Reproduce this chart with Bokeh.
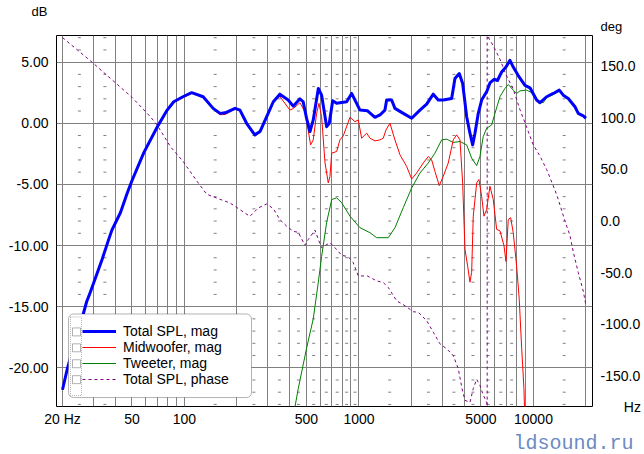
import numpy as np
from bokeh.plotting import figure
from bokeh.models import (Range1d, LinearAxis, FixedTicker, PrintfTickFormatter, CustomJSTickFormatter,
                          Legend, LegendItem, BoxAnnotation, Title)
from bokeh.embed import file_html
from bokeh.resources import INLINE

# ---------------- data ----------------
total_f = [20, 20.6, 21.3, 22.7, 25.4, 27.5, 28.9, 33.8, 36.8, 38.5,
           43, 47, 50, 58.5, 69.8, 79.6, 86.8, 98, 110, 128,
           146, 160, 171, 195, 208, 227, 253, 271, 296, 323,
           352, 393, 420, 459, 479, 501, 524, 547, 585, 611,
           653, 676, 707, 745, 850, 908, 1013, 1116, 1235, 1319,
           1409, 1441, 1539, 1608, 1795, 2005, 2236, 2443, 2666, 2847,
           3042, 3398, 3549, 3757, 3929, 4143, 4326, 4483, 4622, 4828,
           5048, 5400, 5632, 5950, 6220, 6573, 6957, 7334, 7660, 8180,
           8940, 9550, 10430, 10900, 11900, 12990, 14060, 14820, 15830, 17290,
           18060, 19290, 20000]
total_db = [-21.8, -21.0, -20.1, -18.7, -16.4, -14.6, -13.8, -11.1, -9.5, -8.7,
            -7.3, -5.7, -4.7, -2.4, -0.3, 1.08, 1.76, 2.17, 2.5, 2.17,
            1.22, 0.81, 0.86, 1.22, 1.08, 0.0, -0.95, -0.68, 0.54, 1.76,
            2.38, 1.9, 1.4, 2.0, 1.76, 0.4, -0.68, 0.27, 2.85, 2.3,
            -0.28, 0.0, 1.84, 1.63, 1.76, 2.44, 1.08, 1.03, 0.49, 0.68,
            1.08, 1.9, 1.9, 1.22, 0.81, 0.41, 1.08, 1.57, 2.38, 1.9,
            1.9, 2.03, 3.66, 4.07, 3.25, 0.54, -0.81, -1.77, -0.81, 0.81,
            1.9, 2.6, 3.3, 3.6, 3.5, 4.2, 4.6, 5.15, 4.6, 3.9,
            3.1, 2.9, 1.9, 1.68, 2.17, 2.44, 2.71, 2.3, 2.03, 1.35,
            0.81, 0.6, 0.41]

mid_f = [20, 20.6, 21.3, 22.7, 25.4, 27.5, 28.9, 33.8, 36.8, 38.5,
         43, 47, 50, 58.5, 69.8, 79.6, 86.8, 98, 110, 128,
         146, 160, 171, 195, 208, 227, 253, 271, 296, 323,
         352, 402, 420, 459, 490, 501, 528, 547, 572, 590,
         611, 639, 667, 682, 698, 745, 778, 813, 888, 948,
         991, 1036, 1107, 1156, 1235, 1319, 1378, 1428, 1505, 1608,
         1718, 1876, 2005, 2141, 2336, 2495, 2609, 2726, 2885, 3042,
         3249, 3470, 3630, 3792, 3929, 4050, 4198, 4326, 4424, 4519,
         4727, 4872, 5048, 5203, 5392, 5632, 5884, 6153, 6427, 6776,
         6957, 7171, 7402, 7660, 8010, 8290, 8560, 8820, 8940]
mid_db = [-21.8, -21.0, -20.1, -18.7, -16.4, -14.6, -13.8, -11.1, -9.5, -8.7,
          -7.3, -5.7, -4.7, -2.4, -0.3, 1.05, 1.7, 2.1, 2.45, 2.1,
          1.15, 0.7, 0.72, 1.15, 1.0, -0.1, -1.05, -0.75, 0.45, 1.7,
          2.2, 1.08, 1.2, 1.68, 0.95, 0.27, -1.77, -1.36, 0.81, 1.63,
          0.54, -3.25, -4.88, -4.34, -2.44, -2.31, -1.36, -1.03, 0.49, 0.13,
          0.27, -1.22, -0.81, -1.22, -1.44, -1.36, -1.22, -0.55, 0.0, -1.36,
          -2.58, -3.53, -4.56, -4.07, -3.25, -2.72, -2.99, -3.94, -5.1, -4.34,
          -3.25, -1.36, -0.95, -1.36, -4.88, -10.3, -11.7, -13.0, -12.2, -7.6,
          -4.88, -4.6, -5.97, -7.6, -7.05, -5.15, -6.24, -8.68, -8.8, -10.0,
          -11.3, -7.87, -7.73, -8.95, -11.7, -14.4, -18.4, -21.7, -24.5]

tw_f = [420, 449, 501, 547, 585, 611, 653, 698, 745, 796,
        888, 1013, 1156, 1263, 1472, 1608, 1795, 2005, 2236, 2495,
        2726, 2978, 3182, 3470, 3792, 4143, 4424, 4727, 4936, 5155,
        5392, 5760, 6017, 6427, 6866, 7171, 7660, 8010, 8370, 9140,
        9970, 10650, 11380, 11900, 12990, 14060, 14820, 15830, 17290, 18060,
        19290, 20000]
tw_db = [-24.0, -21.7, -18.4, -16.0, -13.0, -10.9, -8.1, -6.24, -6.1, -6.5,
         -7.6, -8.54, -8.95, -9.36, -9.36, -8.54, -6.9, -5.29, -4.07, -3.25,
         -2.44, -1.36, -1.3, -1.57, -1.49, -1.77, -2.85, -3.47, -2.72, -1.09,
         -0.41, -0.14, 0.81, 2.17, 2.85, 3.17, 2.71, 2.44, 2.65, 2.71,
         2.44, 1.76, 1.68, 2.1, 2.35, 2.65, 2.25, 2.0, 1.3, 0.78,
         0.58, 0.4]

ph_f = [20, 29.6, 50, 63.9, 69.8, 83.2, 98, 117.5, 134, 160,
        182, 208, 237, 265, 296, 323, 352, 385, 420, 449,
        490, 512, 560, 585, 611, 682, 729, 796, 868, 927,
        991, 1116, 1263, 1378, 1472, 1644, 1835, 2048, 2187, 2443,
        2666, 2912, 3182, 3470, 3708, 3900, 4050, 4326, 4519, 4727,
        4936, 5155, 5392, 5430, 5430, 5884, 6427, 6957, 7660, 8370,
        9140, 9970, 10900, 11900, 13280, 13870, 15150, 16190, 16910, 18060,
        19290, 20000]
ph_deg = [178, 154, 120, 101, 93, 72, 58, 39, 26, 21,
          17.6, 11, 4.5, 12.7, 16.5, 12, 1.4, -5, -10, -11,
          -23.5, -18, -8.9, -18, -25.9, -21, -25.9, -33.3, -34.6, -40.3,
          -53.3, -53.3, -58.1, -59.7, -64.5, -77.4, -82.2, -88, -88.6, -96.7,
          -107.9, -119.2, -124, -130.5, -143.3, -163, -174, -176, -162.6, -153.6,
          -159.5, -169, -175.5, -180, 180, 170, 157, 142, 128, 108,
          91, 74, 63, 50, 30, 21, 0, -14, -30, -50,
          -68, -82]

series_labels = ["Total SPL, mag", "Midwoofer, mag", "Tweeter, mag", "Total SPL, phase"]
x_ticks = [20, 50, 100, 500, 1000, 5000, 10000]
x_tick_labels = ["20 Hz", "50", "100", "500", "1000", "5000", "10000"]
y_ticks = [-20, -15, -10, -5, 0, 5]
phase_ticks = [-150, -100, -50, 0, 50, 100, 150]
unit_y, unit_phase, unit_x = "dB", "deg", "Hz"
watermark = "ldsound.ru"

# ---------------- layout ----------------
W, H = 644, 454
BL, BR, BT, BB = 56, 52, 35, 46
FW, FH = W - BL - BR, H - BT - BB
X0, X1 = 18.48, 21795.0
Y0, Y1 = -23.17, 7.18
P0, P1 = -180.0, 180.0
FONT = "Liberation Sans"
GRID = "#808080"


def px_x(px):
    return X0 * (X1 / X0) ** (px / FW)


def px_y(py):
    return Y1 - py / FH * (Y1 - Y0)


p = figure(width=W, height=H, x_axis_type="log",
           x_range=Range1d(X0, X1), y_range=Range1d(Y0, Y1),
           output_backend="svg", toolbar_location=None,
           min_border_left=BL, min_border_right=BR, min_border_top=BT, min_border_bottom=BB)
p.background_fill_color = "white"
p.border_fill_color = "white"
p.outline_line_color = "black"
p.outline_line_width = 1
p.outline_line_alpha = 1

# grid
grid_x = [v * d for d in (10, 100, 1000) for v in range(2 if d == 10 else 1, 10)] + [10000, 20000]
p.xgrid.ticker = FixedTicker(ticks=grid_x)
p.ygrid.ticker = FixedTicker(ticks=y_ticks)
p.grid.grid_line_color = GRID
p.grid.grid_line_width = 1
p.grid.grid_line_alpha = 1

# axes
xa = p.xaxis[0]
xa.ticker = FixedTicker(ticks=x_ticks, minor_ticks=[])
xa.formatter = CustomJSTickFormatter(args=dict(t=x_ticks, l=x_tick_labels), code="""
for (let i = 0; i < t.length; i++) { if (Math.abs(tick - t[i]) < 1e-6 * t[i]) return l[i]; }
return '';
""")
ya = p.yaxis[0]
ya.ticker = FixedTicker(ticks=y_ticks, minor_ticks=[])
ya.formatter = PrintfTickFormatter(format="%.2f")

p.extra_y_ranges = {"phase": Range1d(P0, P1)}
# the x unit sits at the right end of the x axis = bottom end of the phase scale
ra = LinearAxis(y_range_name="phase", ticker=FixedTicker(ticks=phase_ticks + [P0], minor_ticks=[]),
                formatter=CustomJSTickFormatter(args=dict(lo=P0, unit=unit_x), code="""
if (Math.abs(tick - lo) < 1e-9) { return String.fromCharCode(160, 160, 160, 160, 160, 160) + unit; }
return tick.toFixed(1);
"""))
p.add_layout(ra, "right")

for ax, so in ((xa, 4), (ya, 8), (ra, 8)):
    ax.axis_line_color = None
    ax.major_tick_line_color = None
    ax.minor_tick_line_color = None
    ax.major_tick_out = 0
    ax.major_tick_in = 0
    ax.minor_tick_out = 0
    ax.major_label_standoff = so
    ax.major_label_text_font = FONT
    ax.major_label_text_font_size = "14px"
    ax.major_label_text_color = "black"

# unit titles above the frame and the watermark below
p.add_layout(Title(text=unit_phase, align="left", offset=544, standoff=0, vertical_align="top",
                   text_font=FONT, text_font_size="13px", text_font_style="normal",
                   text_color="black"), "above")
p.add_layout(Title(text=unit_y, align="left", offset=-25, standoff=0,
                   text_font=FONT, text_font_size="13px", text_font_style="normal",
                   text_color="black"), "above")
p.add_layout(Title(text=watermark, align="left", offset=457, standoff=0,
                   text_font="Liberation Mono", text_font_size="20px", text_font_style="normal",
                   text_color="#6b8bc3"), "below")

# minor dotted grid marks
minor_f = [25, 35] + [v * 100 + 50 for v in range(1, 10)] + [v * 1000 + 500 for v in range(1, 8)] + [15000]
minor_db = [d for d in range(-23, 8) if d % 5 != 0]
mx, my = np.meshgrid(minor_f, minor_db)
p.scatter(mx.ravel(), my.ravel(), marker="dash", size=3, line_color=GRID, line_width=1)

# curves
r_ph = p.line(ph_f, ph_deg, y_range_name="phase", line_color="#800080", line_width=1, line_dash="3 3")
r_tw = p.line(tw_f, tw_db, line_color="#008000", line_width=1)
r_mid = p.line(mid_f, mid_db, line_color="#ff0000", line_width=1)
r_tot = p.line(total_f, total_db, line_color="#0000ff", line_width=3, line_join="round")

# legend frame and checkbox column, then the (transparent) legend itself
LEG_X, LEG_Y, PAD, ROW = 12, 9, 10, 16
LEG_W = 183
leg_h = 2 * PAD + 4 * ROW
leg_top = FH - LEG_Y - leg_h
frame_box = BoxAnnotation(left=px_x(LEG_X), right=px_x(LEG_X + LEG_W),
                          top=px_y(leg_top), bottom=px_y(leg_top + leg_h),
                          fill_color="white", fill_alpha=1, line_color="black", line_width=1)
try:
    frame_box.border_radius = 5
except Exception:
    pass
p.add_layout(frame_box)
p.add_layout(BoxAnnotation(left=px_x(LEG_X + 2), right=px_x(LEG_X + 13),
                           top=px_y(leg_top + 3), bottom=px_y(leg_top + leg_h - 2),
                           fill_color="white", fill_alpha=0, line_color="black", line_width=1,
                           line_dash="1 1"))
for i in range(4):
    cy = leg_top + PAD + ROW / 2 + ROW * i
    p.add_layout(BoxAnnotation(left=px_x(LEG_X + 4), right=px_x(LEG_X + 12),
                               top=px_y(cy - 4), bottom=px_y(cy + 4),
                               fill_color="white", fill_alpha=1, line_color="black", line_width=1))

legend = Legend(items=[LegendItem(label=series_labels[i], renderers=[r])
                       for i, r in enumerate([r_tot, r_mid, r_tw, r_ph])],
                location=(LEG_X + 14, LEG_Y + PAD), margin=0, padding=0, spacing=0,
                glyph_width=34, glyph_height=ROW, label_height=ROW, label_standoff=7,
                label_text_font=FONT, label_text_font_size="14px", label_text_color="black",
                border_line_color=None, background_fill_alpha=0)
p.add_layout(legend)

open("out.html", "w").write(file_html(p, INLINE))
